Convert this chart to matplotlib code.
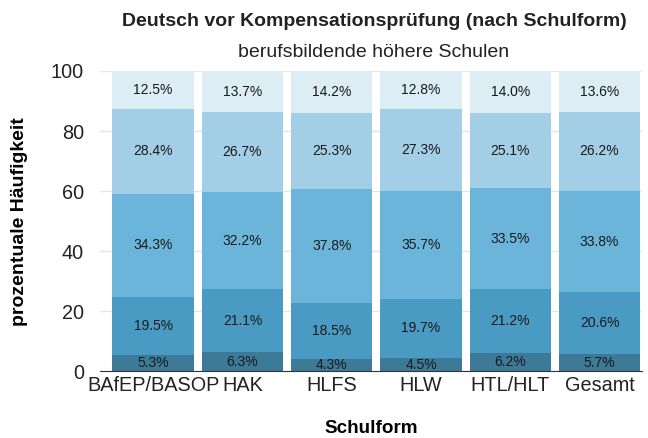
import matplotlib
matplotlib.use("Agg")
import matplotlib.pyplot as plt
import numpy as np

plt.rcParams['font.family'] = ['Liberation Sans', 'DejaVu Sans']

schools = ["BAfEP/BASOP", "HAK", "HLFS", "HLW", "HTL/HLT", "Gesamt"]
# percentage per grade category, bottom to top
cat1 = [5.3, 6.3, 4.3, 4.5, 6.2, 5.7]
cat2 = [19.5, 21.1, 18.5, 19.7, 21.2, 20.6]
cat3 = [34.3, 32.2, 37.8, 35.7, 33.5, 33.8]
cat4 = [28.4, 26.7, 25.3, 27.3, 25.1, 26.2]
cat5 = [12.5, 13.7, 14.2, 12.8, 14.0, 13.6]

colors = ["#3c7a98", "#4a9bc3", "#6cb5da", "#a3cfe6", "#dcedf6"]

fig = plt.figure(figsize=(6.48, 4.38), dpi=100)
ax = fig.add_axes([0.155, 0.152, 0.835, 0.686])

x = np.arange(len(schools))
bottom = np.zeros(len(schools))
for vals, col in zip([cat1, cat2, cat3, cat4, cat5], colors):
    vals = np.array(vals)
    ax.bar(x, vals, width=0.91, bottom=bottom, color=col, zorder=2)
    for xi, b, v in zip(x, bottom, vals):
        ax.text(xi, b + v / 2, f"{v:.1f}%", ha='center', va='center',
                fontsize=10, color='#1a1a1a', zorder=3)
    bottom += vals

ax.set_xlim(-0.59, 5.47)
ax.set_ylim(0, 100)
ax.set_yticks([0, 20, 40, 60, 80, 100])
ax.set_xticks(x)
ax.set_xticklabels(schools)
ax.tick_params(axis='both', labelsize=14.3, colors='#222222', length=0, pad=3)
ax.tick_params(axis='y', pad=12)
ax.yaxis.grid(True, color='#e6e6e6', linewidth=1, zorder=0)
for s in ['top', 'right', 'left']:
    ax.spines[s].set_visible(False)
ax.spines['bottom'].set_color('#333333')
ax.spines['bottom'].set_zorder(4)

ax.set_ylabel("prozentuale Häufigkeit", fontsize=14, fontweight='bold')
ax.yaxis.set_label_coords(-0.133, 0.5)
ax.set_xlabel("Schulform", fontsize=13.6, fontweight='bold')
ax.xaxis.set_label_coords(0.5, -0.163)
fig.text(0.578, 0.952, "Deutsch vor Kompensationsprüfung (nach Schulform)",
         ha='center', va='center', fontsize=14, fontweight='bold', color='#222222')
fig.text(0.577, 0.881, "berufsbildende höhere Schulen",
         ha='center', va='center', fontsize=14, color='#222222')

fig.savefig("out.png", dpi=100)
